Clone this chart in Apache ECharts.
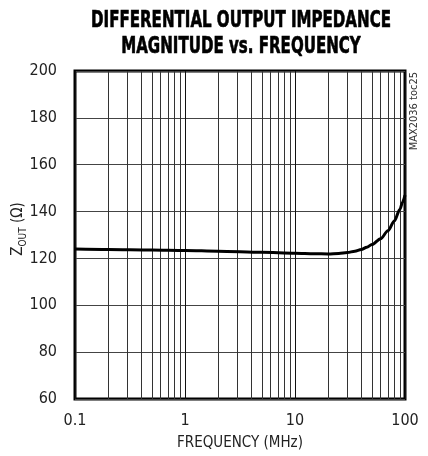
<!DOCTYPE html>
<html>
<head>
<meta charset="utf-8">
<script src="https://cdn.jsdelivr.net/npm/echarts@6/dist/echarts.min.js"></script>
<style>html,body{margin:0;padding:0;background:#fff;}#c{width:428px;height:456px;}</style>
</head>
<body>
<div id="c"></div>
<script>
var freqMHz = [0.1, 0.2, 0.5, 1, 2, 5, 10, 15, 20, 25, 30, 35, 40, 45, 50, 60, 70, 80, 90, 95, 100];
var zOut = [124.0, 123.8, 123.6, 123.4, 123.1, 122.6, 122.2, 122.0, 121.9, 122.1, 122.5, 123.1, 123.8, 124.8, 125.9, 128.4, 131.8, 136.0, 141.0, 144.0, 147.0];
var minorFreqs = [0.2,0.3,0.4,0.5,0.6,0.7,0.8,0.9,2,3,4,5,6,7,8,9,20,30,40,50,60,70,80,90];
var xTicks = [0.1, 1, 10, 100];
var yTicks = [60, 80, 100, 120, 140, 160, 180, 200];
var titleLines = ['DIFFERENTIAL OUTPUT IMPEDANCE', 'MAGNITUDE vs. FREQUENCY'];

var FONT = '"DejaVu Sans Condensed", "Liberation Sans Narrow", "Liberation Sans", sans-serif';
var chart = echarts.init(document.getElementById('c'), null, {renderer: 'canvas'});
var lineData = freqMHz.map(function (f, i) { return [f, zOut[i]]; });

function titleText(txt, y) {
  return {
    type: 'text', x: 241, y: y, scaleX: 0.93, scaleY: 1.3,
    style: {text: txt, fontFamily: FONT, fontWeight: 'bold', fontSize: 18, fill: '#000',
      stroke: '#000', lineWidth: 0.5, textAlign: 'center', textVerticalAlign: 'middle'}
  };
}

chart.setOption({
  animation: false,
  grid: {left: 75, right: 23, top: 71, bottom: 57, containLabel: false, outerBoundsMode: 'none',
    show: true, borderColor: '#000', borderWidth: 3, backgroundColor: 'transparent'},
  xAxis: {
    type: 'log', logBase: 10, min: 0.1, max: 100,
    name: 'FREQUENCY (MHz)', nameLocation: 'middle', nameGap: 37, nameMoveOverlap: false,
    nameTextStyle: {fontFamily: FONT, fontSize: 15, color: '#222'},
    axisLine: {show: false}, axisTick: {show: false},
    axisLabel: {fontFamily: FONT, fontSize: 16, color: '#222', margin: 14,
      formatter: function (v) { return xTicks.indexOf(+v.toPrecision(3)) >= 0 ? String(+v.toPrecision(3)) : ''; }},
    splitLine: {show: true, lineStyle: {color: '#111', width: 1}}
  },
  yAxis: {
    type: 'value', min: yTicks[0], max: yTicks[yTicks.length - 1], interval: 20,
    name: '{z|Z}{s|OUT}{z| (Ω)}', nameLocation: 'middle', nameGap: 47, nameRotate: 90, nameMoveOverlap: false,
    nameTextStyle: {fontFamily: FONT, color: '#222', padding: [0, 0, 0, 12],
      rich: {z: {fontFamily: FONT, fontSize: 15, color: '#222', lineHeight: 20, verticalAlign: 'middle'},
             s: {fontFamily: FONT, fontSize: 10, color: '#222', lineHeight: 20, verticalAlign: 'bottom', padding: [6, 0, 0, 0]}}},
    axisLine: {show: false}, axisTick: {show: false},
    axisLabel: {fontFamily: FONT, fontSize: 16, color: '#222', margin: 18},
    splitLine: {show: true, lineStyle: {color: '#444', width: 1}}
  },
  graphic: [
    titleText(titleLines[0], 20.5),
    titleText(titleLines[1], 46.5),
    {
      type: 'text', x: 409, y: 72, rotation: Math.PI / 2,
      style: {text: 'MAX2036 toc25', fontFamily: FONT, fontSize: 11, fill: '#333', textAlign: 'right', textVerticalAlign: 'top'}
    }
  ],
  series: [{
    type: 'line', data: lineData, smooth: 0.3, smoothMonotone: 'x', showSymbol: false, silent: true,
    lineStyle: {color: '#000', width: 3},
    markLine: {
      silent: true, symbol: ['none', 'none'], label: {show: false},
      lineStyle: {color: '#333', width: 1, type: 'solid'},
      data: minorFreqs.map(function (f) { return {xAxis: f}; })
    },
    z: 5
  }]
});
</script>
</body>
</html>
